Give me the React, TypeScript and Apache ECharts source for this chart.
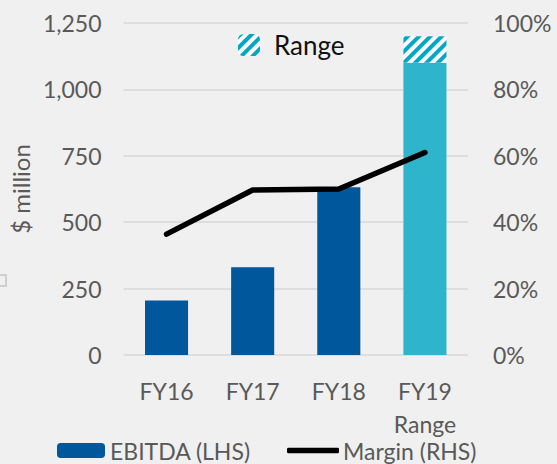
import React, { useEffect, useRef } from "react";
import * as echarts from "echarts";

const categories = ["FY16", "FY17", "FY18", "FY19\nRange"];
const ebitda = [205, 330, 632, 1100];
const rangeHigh = [null, null, null, 1200];
const margin = [0.364, 0.497, 0.5, 0.61];
const leftTicks = { min: 0, max: 1250, interval: 250 };
const rightTicks = { min: 0, max: 1, interval: 0.2 };

const FONT = "Lato";
const GREY = "#595959";
const BLUE = "#00579b";
const CYAN = "#2fb5cb";
const HATCH = "#00a8c6";

export default function App() {
  const ref = useRef<HTMLDivElement>(null);
  useEffect(() => {
    document.body.style.margin = "0";
    const chart = echarts.init(ref.current!, null, { renderer: "svg" });
    const rangeExtra = rangeHigh.map((v, i) => (v == null ? null : v - ebitda[i]));
    chart.setOption({
      animation: false,
      backgroundColor: "#f0f0f0",
      textStyle: { fontFamily: FONT },
      grid: { left: 119, right: 89, top: 23, bottom: 109 },
      legend: [
        {
          data: ["Range"],
          left: 238,
          top: 32,
          padding: 0,
          itemWidth: 22,
          itemHeight: 22,
          textStyle: { fontFamily: FONT, fontSize: 26, color: "#111", padding: [0, 0, 0, 9] },
          selectedMode: false,
        },
        {
          data: ["EBITDA (LHS)"],
          left: 57,
          bottom: 2,
          padding: 0,
          itemWidth: 48,
          itemHeight: 15,
          textStyle: { fontFamily: FONT, fontSize: 23, lineHeight: 18, color: GREY },
          selectedMode: false,
        },
        {
          data: [{ name: "Margin (RHS)", icon: "roundRect" }],
          left: 287,
          bottom: 2,
          padding: 0,
          itemWidth: 52,
          itemHeight: 5.5,
          textStyle: { fontFamily: FONT, fontSize: 23, lineHeight: 18, color: GREY, padding: [0, 0, 0, -1] },
          selectedMode: false,
        },
      ],
      xAxis: {
        type: "category",
        data: categories,
        axisLine: { show: false },
        axisTick: { show: false },
        axisLabel: { color: GREY, fontSize: 23, fontFamily: FONT, margin: 19, lineHeight: 33 },
      },
      yAxis: [
        {
          type: "value",
          min: leftTicks.min,
          max: leftTicks.max,
          interval: leftTicks.interval,
          name: "$ million",
          nameLocation: "middle",
          nameGap: 82,
          nameTextStyle: { color: GREY, fontSize: 24, fontFamily: FONT },
          axisLine: { show: false },
          axisTick: { show: false },
          axisLabel: {
            color: GREY,
            fontSize: 23,
            fontFamily: FONT,
            margin: 22,
            formatter: (v: number) => v.toLocaleString("en-US"),
          },
          splitLine: { lineStyle: { color: "#d9d9d9", width: 1.5 } },
        },
        {
          type: "value",
          min: rightTicks.min,
          max: rightTicks.max,
          interval: rightTicks.interval,
          axisLine: { show: false },
          axisTick: { show: false },
          splitLine: { show: false },
          axisLabel: {
            color: GREY,
            fontSize: 23,
            fontFamily: FONT,
            margin: 25,
            formatter: (v: number) => Math.round(v * 100) + "%",
          },
        },
      ],
      series: [
        {
          name: "EBITDA (LHS)",
          type: "bar",
          stack: "s",
          barWidth: "50%",
          itemStyle: { color: BLUE },
          data: ebitda.map((v, i) =>
            rangeHigh[i] == null ? v : { value: v, itemStyle: { color: CYAN } }
          ),
        },
        {
          name: "Range",
          type: "bar",
          stack: "s",
          barWidth: "50%",
          itemStyle: {
            color: "#ffffff",
            decal: {
              symbol: "rect",
              symbolSize: 1,
              color: HATCH,
              dashArrayX: [1, 0],
              dashArrayY: [3.5, 4],
              rotation: -Math.PI / 4,
            },
          },
          data: rangeExtra,
        },
        {
          name: "Margin (RHS)",
          type: "line",
          yAxisIndex: 1,
          symbol: "none",
          lineStyle: { color: "#000", width: 5.5, cap: "round", join: "round" },
          itemStyle: { color: "#000" },
          data: margin,
        },
      ],
      graphic: [
        {
          type: "rect",
          shape: { x: -5, y: 275, width: 11, height: 11 },
          style: { fill: "none", stroke: "#c4c4c4", lineWidth: 1.5 },
        },
      ],
    });
    return () => chart.dispose();
  }, []);
  return <div ref={ref} style={{ width: 557, height: 464 }} />;
}
